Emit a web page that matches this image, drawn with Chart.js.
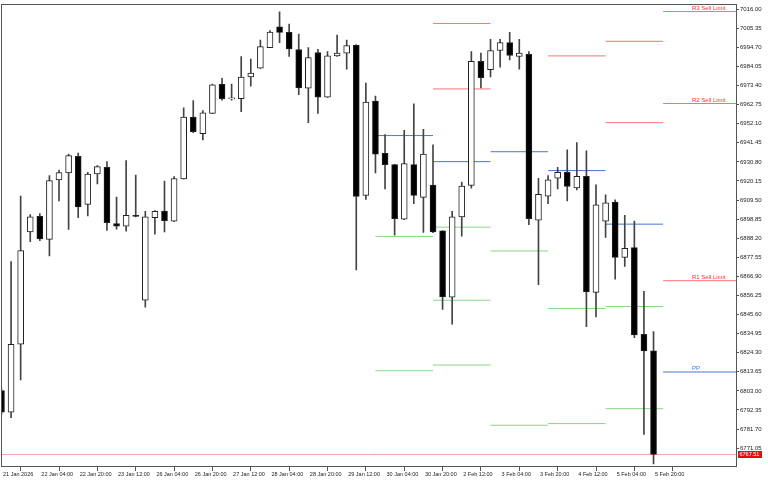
<!DOCTYPE html>
<html>
<head>
<meta charset="utf-8">
<title>US500 H4 with daily pivots</title>
<script src="https://cdn.jsdelivr.net/npm/chart.js@4.4.1/dist/chart.umd.min.js"></script>
<style>
  html, body { margin: 0; padding: 0; background: #fff; }
  canvas { display: block; }
</style>
</head>
<body>
<canvas id="chart" width="768" height="480"></canvas>
<script>
/**
 * H4 candles (21 Jan – 5 Feb 2026) with classic daily pivot levels.
 * Values, one bar per index.
 */

// time labels, one every 4 bars starting at bar 0
const TIME_LABELS = [
  '21 Jan 2026', '22 Jan 04:00', '22 Jan 20:00', '23 Jan 12:00', '26 Jan 04:00',
  '26 Jan 20:00', '27 Jan 12:00', '28 Jan 04:00', '28 Jan 20:00', '29 Jan 12:00',
  '30 Jan 04:00', '30 Jan 20:00', '2 Feb 12:00', '3 Feb 04:00', '3 Feb 20:00',
  '4 Feb 12:00', '5 Feb 04:00', '5 Feb 20:00',
];
const BARS_PER_LABEL = 4;

const OPEN = [
  6803.18, 6791.16, 6829.04, 6891.78, 6900.48, 6887.52, 6920.75, 6924.62, 6933.87, 6907.12,
  6924.07, 6927.78, 6896.38, 6894.94, 6901.03, 6853.57, 6899.70, 6903.41, 6897.71, 6921.30,
  6955.86, 6946.61, 6957.85, 6974.13, 6966.00, 6966.16, 6978.18, 6983.16, 6994.62, 7006.25,
  7003.10, 6993.52, 6971.92, 6991.85, 6966.93, 6989.97, 6991.47, 6995.90, 6912.11, 6964.72,
  6935.53, 6929.27, 6898.82, 6929.27, 6911.00, 6917.81, 6892.34, 6855.23, 6900.09, 6917.65,
  6986.87, 6982.22, 6992.96, 6997.39, 6989.64, 6990.91, 6898.26, 6911.72, 6921.69, 6925.01,
  6916.32, 6922.80, 6857.99, 6897.71, 6908.40, 6877.55, 6882.92, 6834.57, 6825.33,
];
const HIGH = [
  6804.27, 6875.17, 6911.72, 6901.36, 6901.92, 6923.18, 6926.28, 6935.15, 6935.70, 6925.01,
  6928.72, 6930.94, 6911.17, 6931.49, 6923.51, 6903.25, 6903.58, 6920.03, 6922.63, 6961.01,
  6965.05, 6959.51, 6974.30, 6977.46, 6974.30, 6989.64, 6988.14, 6998.83, 7004.04, 7014.56,
  7007.69, 7002.16, 6994.62, 6993.68, 6992.41, 7001.60, 6998.83, 6996.28, 6974.85, 6967.49,
  6946.06, 6929.50, 6948.44, 6963.22, 6948.99, 6940.35, 6892.50, 6903.25, 6919.47, 6992.41,
  6991.47, 6999.22, 6999.22, 7003.10, 6999.22, 6992.41, 6921.69, 6923.18, 6927.78, 6937.58,
  6941.62, 6937.03, 6917.98, 6912.44, 6909.67, 6901.03, 6897.71, 6858.55, 6836.02,
];
const LOW = [
  6789.89, 6788.06, 6809.10, 6886.25, 6886.80, 6878.33, 6908.95, 6893.06, 6899.70, 6900.64,
  6918.53, 6892.51, 6893.28, 6892.17, 6900.09, 6849.70, 6890.51, 6891.78, 6897.50, 6921.10,
  6947.16, 6943.12, 6957.70, 6965.27, 6965.27, 6958.79, 6973.02, 6983.00, 6994.50, 6997.39,
  6989.64, 6968.37, 6952.70, 6957.85, 6966.80, 6989.64, 6982.61, 6870.57, 6909.89, 6924.62,
  6915.76, 6889.96, 6898.60, 6907.45, 6891.40, 6891.23, 6848.42, 6840.28, 6889.41, 6916.15,
  6972.08, 6978.18, 6983.71, 6987.76, 6982.61, 6895.82, 6862.26, 6907.45, 6915.76, 6908.95,
  6915.21, 6838.79, 6844.32, 6888.63, 6865.37, 6872.40, 6832.69, 6778.64, 6762.19,
];
const CLOSE = [
  6791.16, 6829.04, 6881.26, 6900.09, 6887.74, 6920.41, 6924.85, 6934.26, 6905.63, 6924.07,
  6928.17, 6896.93, 6894.94, 6901.03, 6900.30, 6900.09, 6903.25, 6898.04, 6921.52, 6955.86,
  6947.72, 6958.24, 6973.75, 6966.00, 6966.60, 6978.18, 6980.39, 6995.18, 7003.26, 7003.10,
  6993.85, 6972.08, 6989.08, 6966.93, 6989.97, 6991.47, 6995.73, 6911.55, 6964.16, 6935.15,
  6929.27, 6899.15, 6929.83, 6912.11, 6935.15, 6891.78, 6855.40, 6900.09, 6917.26, 6986.87,
  6977.79, 6992.96, 6997.39, 6990.19, 6991.47, 6899.15, 6912.66, 6920.75, 6925.01, 6917.09,
  6922.80, 6858.17, 6906.90, 6908.01, 6877.55, 6882.54, 6834.19, 6825.33, 6767.51,
];

// daily pivot levels: first bar of each day, null = off screen
const DAY_START = [39, 45, 51, 57, 63, 69];
const R3 = [null, null, null, null, null, 7014.73];
const R2 = [null, 7008.08, null, null, 6998.11, 6963.39];
const R1 = [null, 6971.53, null, 6989.97, 6952.70, 6864.48];
const PP = [6945.50, 6930.94, 6936.48, 6925.95, 6896.05, 6813.53];
const S1 = [6889.18, 6894.38, 6881.09, 6848.98, 6850.09, null];
const S2 = [6814.25, 6853.57, 6783.80, 6784.73, 6793.05, null];
const S3 = [null, 6817.41, null, null, null, null];
const LEVEL_TAGS = ['R3 Sell Limit', 'R2 Sell Limit', 'R1 Sell Limit', 'PP'];

const CURRENT_PRICE = 6767.51;

// price axis ticks
const Y_TICK_TOP = 7016.00;
const Y_TICK_STEP = 10.65;
const Y_TICK_COUNT = 24;

// visible window
const X_MIN = -0.05, X_MAX = 76.6;
const Y_MIN = 6760.5, Y_MAX = 7018.6;
const TAG_X = 72;

const COLORS = {
  frame: '#555',
  text: '#222',
  wick: '#444',
  bodyLine: '#222',
  up: '#ffffff',
  down: '#000000',
  res: '#ff7070',
  pivot: '#4677d2',
  sup: '#86d886',
  bid: '#f2a3a3',
  tag: '#ff3030',
  priceBox: '#e01010',
};
const FONT = '"Liberation Sans", Arial, sans-serif';

const yTicks = [];
for (let k = 0; k < Y_TICK_COUNT; k++) yTicks.push(+(Y_TICK_TOP - k * Y_TICK_STEP).toFixed(2));

const wickData = OPEN.map((o, i) => ({ x: i, y: [LOW[i], HIGH[i]] }));
const bodyData = OPEN.map((o, i) => ({ x: i, y: [o, CLOSE[i]] }));
const bodyFill = OPEN.map((o, i) => (CLOSE[i] >= o ? COLORS.up : COLORS.down));

// one short line dataset per pivot level per day
const LEVELS = [
  { values: R3, color: COLORS.res },
  { values: R2, color: COLORS.res },
  { values: R1, color: COLORS.res },
  { values: PP, color: COLORS.pivot },
  { values: S1, color: COLORS.sup },
  { values: S2, color: COLORS.sup },
  { values: S3, color: COLORS.sup },
];
const pivotSets = [];
LEVELS.forEach(lv => {
  lv.values.forEach((v, d) => {
    if (v == null) return;
    const end = d + 1 < DAY_START.length ? DAY_START[d + 1] : X_MAX;
    pivotSets.push({
      type: 'line',
      data: [{ x: DAY_START[d], y: v }, { x: end, y: v }],
      borderColor: lv.color, borderWidth: 1, pointRadius: 0, order: 3,
    });
  });
});

// frame around the plot, level tags on the last day, bid price box
const decorations = {
  id: 'decorations',
  afterDraw(chart) {
    const { ctx, chartArea: a, scales: { x, y } } = chart;
    ctx.save();
    ctx.strokeStyle = COLORS.frame;
    ctx.lineWidth = 1;
    ctx.strokeRect(Math.floor(a.left) + 0.5, Math.floor(a.top) + 0.5,
      Math.round(a.right - a.left), Math.round(a.bottom - a.top));

    const last = DAY_START.length - 1;
    const tagged = [R3, R2, R1, PP];
    ctx.font = '6px ' + FONT;
    ctx.textAlign = 'left';
    ctx.textBaseline = 'alphabetic';
    tagged.forEach((arr, k) => {
      const v = arr[last];
      if (v == null) return;
      ctx.fillStyle = k === 3 ? COLORS.pivot : COLORS.tag;
      ctx.fillText(LEVEL_TAGS[k], x.getPixelForValue(TAG_X), y.getPixelForValue(v) - 1.5);
    });

    const py = y.getPixelForValue(CURRENT_PRICE);
    ctx.fillStyle = COLORS.priceBox;
    ctx.fillRect(a.right + 2, Math.round(py) - 3, 24, 7);
    ctx.fillStyle = '#fff';
    ctx.font = '5.5px ' + FONT;
    ctx.textBaseline = 'middle';
    ctx.fillText(CURRENT_PRICE.toFixed(2), a.right + 3.5, Math.round(py) + 0.5);
    ctx.restore();
  },
};

new Chart(document.getElementById('chart'), {
  type: 'bar',
  data: {
    datasets: [
      {
        data: bodyData, backgroundColor: bodyFill, borderColor: COLORS.bodyLine,
        borderWidth: 1, borderSkipped: false, barThickness: 6, minBarLength: 1,
        grouped: false, order: 0,
      },
      {
        data: wickData, backgroundColor: COLORS.wick, borderWidth: 0,
        barThickness: 1, grouped: false, order: 1,
      },
      {
        type: 'line',
        data: [{ x: X_MIN, y: CURRENT_PRICE }, { x: X_MAX, y: CURRENT_PRICE }],
        borderColor: COLORS.bid, borderWidth: 1, pointRadius: 0, order: 4,
      },
      ...pivotSets,
    ],
  },
  options: {
    responsive: false,
    animation: false,
    devicePixelRatio: 1,
    layout: { padding: { left: 1, top: 1, right: 0, bottom: 0 } },
    plugins: { legend: { display: false }, tooltip: { enabled: false } },
    scales: {
      x: {
        type: 'linear', min: X_MIN, max: X_MAX, offset: false,
        afterBuildTicks: s => { s.ticks = TIME_LABELS.map((_, k) => ({ value: k * BARS_PER_LABEL })); },
        afterFit: s => { s.height = 13; },
        ticks: {
          autoSkip: false, maxRotation: 0, minRotation: 0, align: 'start', padding: 0, labelOffset: 1.5,
          font: { family: FONT, size: 5.5 }, color: COLORS.text,
          callback: v => TIME_LABELS[Math.round(v / BARS_PER_LABEL)] || '',
        },
        grid: { drawOnChartArea: false, drawTicks: true, tickLength: 4, color: COLORS.frame },
        border: { display: false },
      },
      y: {
        position: 'right', min: Y_MIN, max: Y_MAX,
        afterBuildTicks: s => { s.ticks = yTicks.map(v => ({ value: v })); },
        afterFit: s => { s.width = 32; },
        ticks: {
          padding: 1, font: { family: FONT, size: 6 }, color: COLORS.text,
          callback: v => v.toFixed(2),
        },
        grid: { drawOnChartArea: false, drawTicks: true, tickLength: 3, color: COLORS.frame },
        border: { display: false },
      },
    },
  },
  plugins: [decorations],
});
</script>
</body>
</html>
